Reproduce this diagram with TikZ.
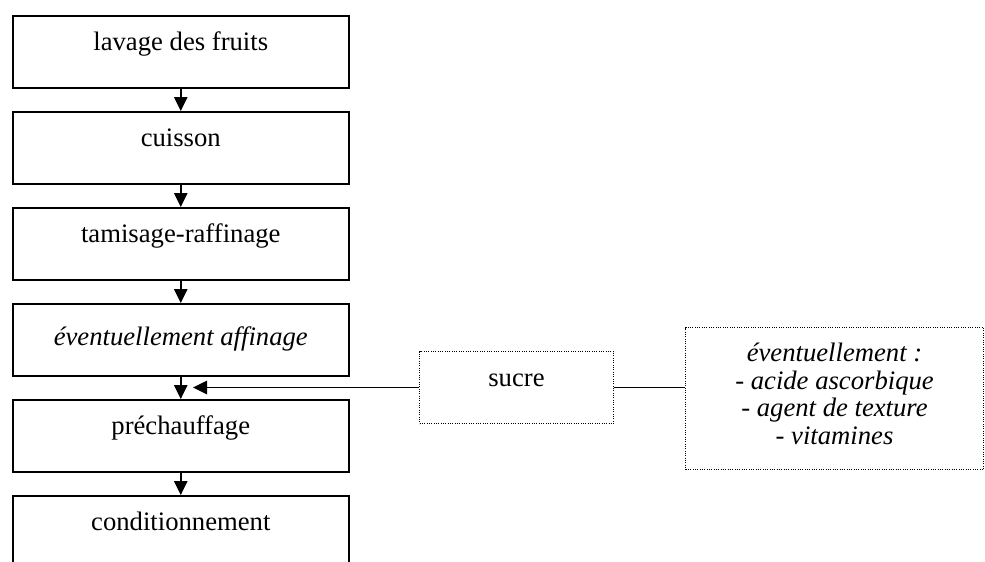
\documentclass[tikz,border=0pt]{standalone}
\usepackage{fontspec}
\setmainfont{Liberation Serif}
\usetikzlibrary{arrows.meta}

\tikzset{
  procBox/.style={draw, rectangle, anchor=north west, line width=0.7pt,
    inner xsep=0pt, inner ysep=0pt, text height=15.75pt, text depth=16.65pt,
    font=\fontsize{12pt}{12.4pt}\selectfont},
  mainBox/.style={procBox, minimum width=151.2pt},
  dotBox/.style={procBox, line width=0.45pt, dash pattern=on 0.45pt off 0.6pt},
  flowArrow/.style={line width=0.75pt, -{Triangle[length=6.3pt,width=6pt]}}
}

\begin{document}
\begin{tikzpicture}[x=0.45pt,y=-0.45pt]
\useasboundingbox (0,0) rectangle (985,561);
% main chain
\node[mainBox] (lavage) at (12,15) {lavage des fruits};
\node[mainBox] (cuisson) at (12,111) {cuisson};
\node[mainBox] (tamisage) at (12,207) {tamisage-raffinage};
\node[mainBox, text height=18.9pt, text depth=13.5pt,
  font=\fontsize{12pt}{12.4pt}\selectfont\itshape] (affinage) at (12,303) {éventuellement affinage};
\node[mainBox] (prechauffage) at (12,399) {préchauffage};
\node[mainBox] (condition) at (12,495) {conditionnement};
\draw[flowArrow] (lavage.south) -- (cuisson.north);
\draw[flowArrow] (cuisson.south) -- (tamisage.north);
\draw[flowArrow] (tamisage.south) -- (affinage.north);
\draw[flowArrow] (affinage.south) -- (prechauffage.north);
\draw[flowArrow] (prechauffage.south) -- (condition.north);
% additions
\node[dotBox, minimum width=87.3pt] (sucre) at (419,351) {sucre};
\node[dotBox, minimum width=134.1pt, align=center, text height=52.65pt, text depth=11.25pt,
  font=\fontsize{12pt}{12.4pt}\selectfont\itshape] (additifs) at (685,327)
  {éventuellement :\\- acide ascorbique\\- agent de texture\\- vitamines};
\coordinate (sucreTip) at (193,387);
\draw[flowArrow] (sucre.west) -- (sucre.west -| sucreTip);
\draw[line width=0.75pt] (sucre.east) -- (sucre.east -| additifs.west);
\end{tikzpicture}
\end{document}
